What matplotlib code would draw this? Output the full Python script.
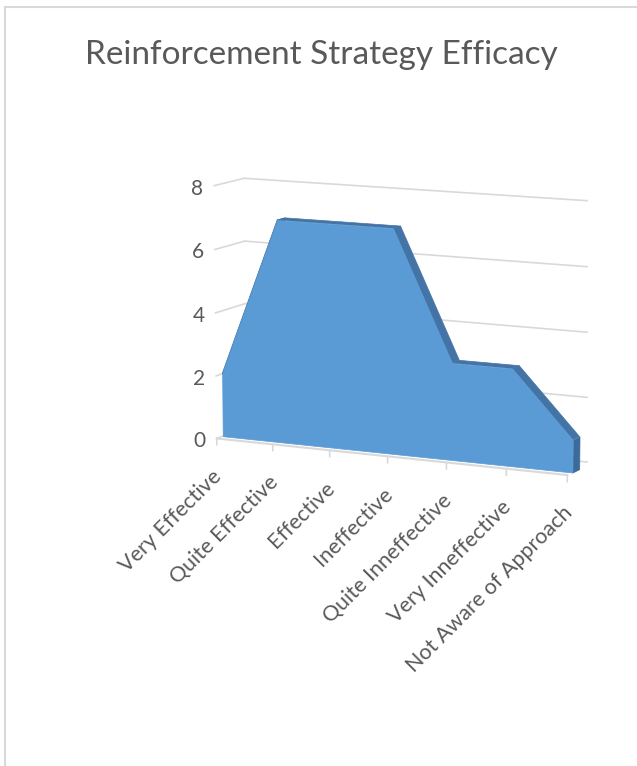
import matplotlib.pyplot as plt
from mpl_toolkits.mplot3d import proj3d
from mpl_toolkits.mplot3d.art3d import Poly3DCollection

categories = ["Very Effective", "Quite Effective", "Effective", "Ineffective",
              "Quite Inneffective", "Very Inneffective", "Not Aware of Approach"]
values = [2, 7, 7, 7, 3, 3, 1]
z_ticks = [0, 2, 4, 6, 8]

plt.rcParams['font.family'] = ['Lato', 'DejaVu Sans']
text_color = '#595959'
grid_color = '#d9d9d9'
front_color = '#5b9bd5'
top_color = '#4474a6'
side_color = '#3c6a99'

fig = plt.figure(figsize=(6.37, 7.66), dpi=100)

# chart border (open at right and bottom like the cropped original)
fig.add_artist(plt.Line2D([0.008, 0.008], [0, 0.991], color='#d9d9d9', lw=1.5))
fig.add_artist(plt.Line2D([0.008, 1.0], [0.991, 0.991], color='#d9d9d9', lw=1.5))

fig.text(0.505, 0.928, 'Reinforcement Strategy Efficacy', ha='center', va='center',
         fontsize=24, color=text_color)

ax = fig.add_axes([0.222, 0.322, 0.8, 0.5], projection='3d')
ax.set_proj_type('persp', focal_length=1.6)
ax.view_init(elev=10, azim=-64)
ax.set_axis_off()
ax.computed_zorder = False
n = len(categories)
xs = list(range(n))
ax.set_xlim(0, n - 1)
ax.set_ylim(0, 1)
ax.set_zlim(0, 8)
ax.set_box_aspect((3.78, 0.61, 2.53), zoom=1.2)

# wall gridlines (side wall + back wall)
for z in z_ticks:
    ax.plot([0, 0], [0, 1], [z, z], color=grid_color, lw=1.2, zorder=1)
    ax.plot([0, n - 1], [1, 1], [z, z], color=grid_color, lw=1.2, zorder=1)

# 3D area series
yf, yb = 0.2, 0.47
tops = []
for i in range(n - 1):
    tops.append([(xs[i], yf, values[i]), (xs[i + 1], yf, values[i + 1]),
                 (xs[i + 1], yb, values[i + 1]), (xs[i], yb, values[i])])
ax.add_collection3d(Poly3DCollection(tops, facecolor=top_color, edgecolor=top_color,
                                     lw=0.5, zorder=2))
side = [[(xs[-1], yf, 0), (xs[-1], yf, values[-1]), (xs[-1], yb, values[-1]), (xs[-1], yb, 0)]]
ax.add_collection3d(Poly3DCollection(side, facecolor=side_color, edgecolor=side_color,
                                     lw=0.5, zorder=3))
front = [[(x, yf, v) for x, v in zip(xs, values)] + [(xs[-1], yf, 0), (xs[0], yf, 0)]]
ax.add_collection3d(Poly3DCollection(front, facecolor=front_color, edgecolor=front_color,
                                     lw=0.5, zorder=4))

# category axis line with tick marks
ax.plot([0, n - 1], [0, 0], [0, 0], color=grid_color, lw=1.5, zorder=5)
for x in xs:
    ax.plot([x, x], [0, 0], [0, -0.2], color=grid_color, lw=1.2, zorder=5)

# labels placed at the projected 3D anchor points
fig.canvas.draw()
for x, cat in zip(xs, categories):
    px, py, _ = proj3d.proj_transform(x, 0, 0, ax.get_proj())
    ax.annotate(cat, (px, py), xycoords='data', xytext=(2, -35), textcoords='offset pixels',
                rotation=45, rotation_mode='anchor', ha='right', va='center',
                fontsize=15.5, color=text_color)
for z in z_ticks:
    px, py, _ = proj3d.proj_transform(0, 0, z, ax.get_proj())
    ax.annotate(str(z), (px, py), xycoords='data', xytext=(-11, -3), textcoords='offset pixels',
                ha='right', va='center', fontsize=15, color=text_color)

fig.savefig('out.png', dpi=100)
